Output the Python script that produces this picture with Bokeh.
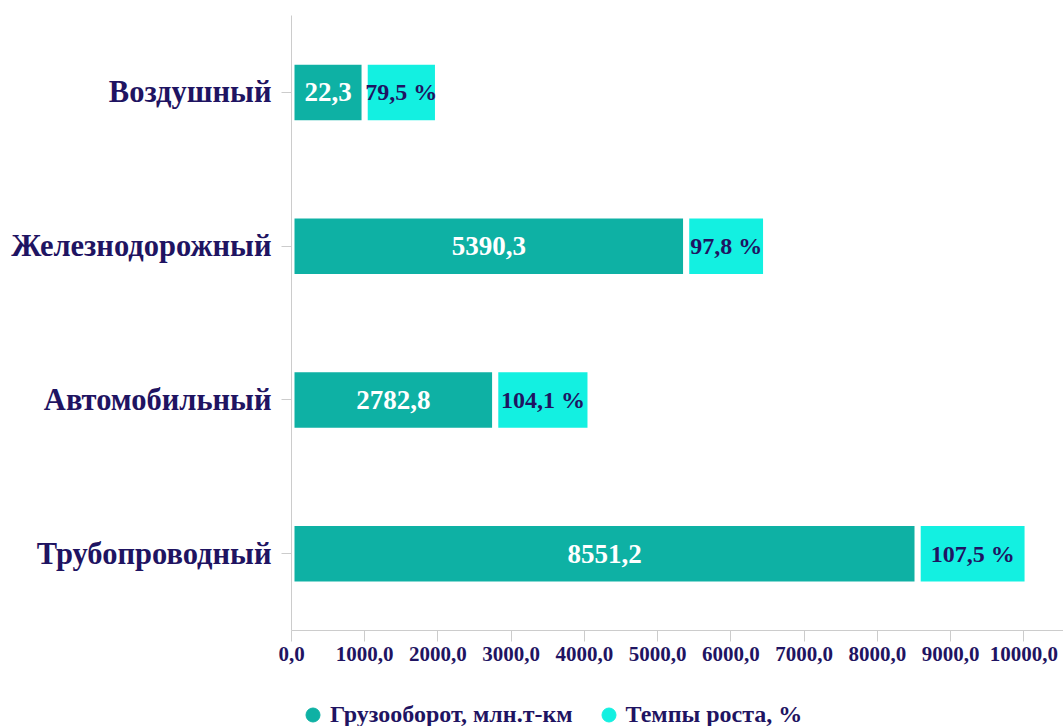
from bokeh.plotting import figure
from bokeh.layouts import column
from bokeh.models import ColumnDataSource, FactorRange, Range1d, FixedTicker, Legend, LegendItem
from bokeh.embed import file_html
from bokeh.resources import INLINE
from bokeh.core.properties import value

# ---- data -------------------------------------------------------------
categories = ["Трубопроводный", "Автомобильный", "Железнодорожный", "Воздушный"]
freight = [8551.2, 2782.8, 5390.3, 22.3]          # Грузооборот, млн.т-км
growth = [107.5, 104.1, 97.8, 79.5]               # Темпы роста, %
# segment lengths as drawn in the picture (axis units)
freight_bar = [8551.2, 2782.8, 5390.3, 1000.0]
growth_bar = [1500.0, 1300.0, 1090.0, 1000.0]
series_names = ["Грузооборот, млн.т-км", "Темпы роста, %"]
x_ticks = [0, 1000, 2000, 3000, 4000, 5000, 6000, 7000, 8000, 9000, 10000]
x_tick_labels = ["0,0", "1000,0", "2000,0", "3000,0", "4000,0", "5000,0",
                 "6000,0", "7000,0", "8000,0", "9000,0", "10000,0"]

TEAL = "#0eb1a4"
CYAN = "#13f0e1"
NAVY = "#1f1462"
AXIS = "#cccccc"
FONT = "Liberation Serif"


def fmt(v):
    return f"{v:.1f}".replace(".", ",")


g_left = list(freight_bar)
g_right = [a + b for a, b in zip(freight_bar, growth_bar)]
src = ColumnDataSource(dict(
    cat=categories,
    f_left=[0.0] * len(categories),
    f_right=freight_bar,
    g_left=g_left,
    g_right=g_right,
    f_mid=[b / 2 for b in freight_bar],
    g_mid=[(a + b) / 2 for a, b in zip(g_left, g_right)],
    f_lab=[fmt(v) for v in freight],
    g_lab=[fmt(v) + " %" for v in growth],
))

p = figure(width=1063, height=682,
           y_range=FactorRange(*categories), x_range=Range1d(0, 10542),
           output_backend="svg", toolbar_location=None,
           min_border_left=291, min_border_right=0,
           min_border_top=15, min_border_bottom=52)

p.hbar(y="cat", left="f_left", right="f_right", height=0.4, source=src,
       fill_color=TEAL, line_color="white", line_width=6)
p.hbar(y="cat", left="g_left", right="g_right", height=0.4, source=src,
       fill_color=CYAN, line_color="white", line_width=6)

p.text(x="f_mid", y="cat", text="f_lab", source=src, text_align="center",
       text_baseline="middle", text_font=value(FONT), text_font_style="bold",
       text_font_size="27px", text_color="white")
p.text(x="g_mid", y="cat", text="g_lab", source=src, text_align="center",
       text_baseline="middle", text_font=value(FONT), text_font_style="bold",
       text_font_size="24px", text_color=NAVY)

p.xgrid.visible = False
p.ygrid.visible = False
p.outline_line_color = None

xa = p.xaxis[0]
xa.ticker = FixedTicker(ticks=x_ticks)
xa.major_label_overrides = {t: l for t, l in zip(x_ticks, x_tick_labels)}
xa.axis_line_color = AXIS
xa.major_tick_line_color = AXIS
xa.major_tick_out = 11
xa.major_tick_in = 0
xa.minor_tick_line_color = None
xa.major_label_standoff = 5
xa.major_label_text_font = FONT
xa.major_label_text_font_style = "bold"
xa.major_label_text_font_size = "21px"
xa.major_label_text_color = NAVY

ya = p.yaxis[0]
ya.axis_line_color = AXIS
ya.major_tick_line_color = AXIS
ya.major_tick_out = 10
ya.major_tick_in = 0
ya.minor_tick_line_color = None
ya.major_label_standoff = 10
ya.major_label_text_font = FONT
ya.major_label_text_font_style = "bold"
ya.major_label_text_font_size = "30.5px"
ya.major_label_text_color = NAVY

# ---- legend strip ------------------------------------------------------
lg = figure(width=1063, height=44, x_range=Range1d(0, 1), y_range=Range1d(0, 1),
            output_backend="svg", toolbar_location=None,
            x_axis_type=None, y_axis_type=None, min_border=0)
lg.outline_line_color = None
# legend swatches (points kept outside the visible range)
r1 = lg.scatter(x=[-10], y=[-10], marker="circle", size=14, fill_color=TEAL, line_color=TEAL)
r2 = lg.scatter(x=[-10], y=[-10], marker="circle", size=14, fill_color=CYAN, line_color=CYAN)

legend = Legend(items=[LegendItem(label=series_names[0], renderers=[r1]),
                       LegendItem(label=series_names[1], renderers=[r2])],
                orientation="horizontal", glyph_width=35, glyph_height=35,
                label_standoff=-2, spacing=18, padding=0, margin=0,
                border_line_color=None, background_fill_alpha=0,
                label_text_font=FONT, label_text_font_style="bold",
                label_text_font_size="24px", label_text_color=NAVY,
                location=(4, -6))
lg.add_layout(legend, "center")

open("out.html", "w").write(file_html(column(p, lg, spacing=0), INLINE))
